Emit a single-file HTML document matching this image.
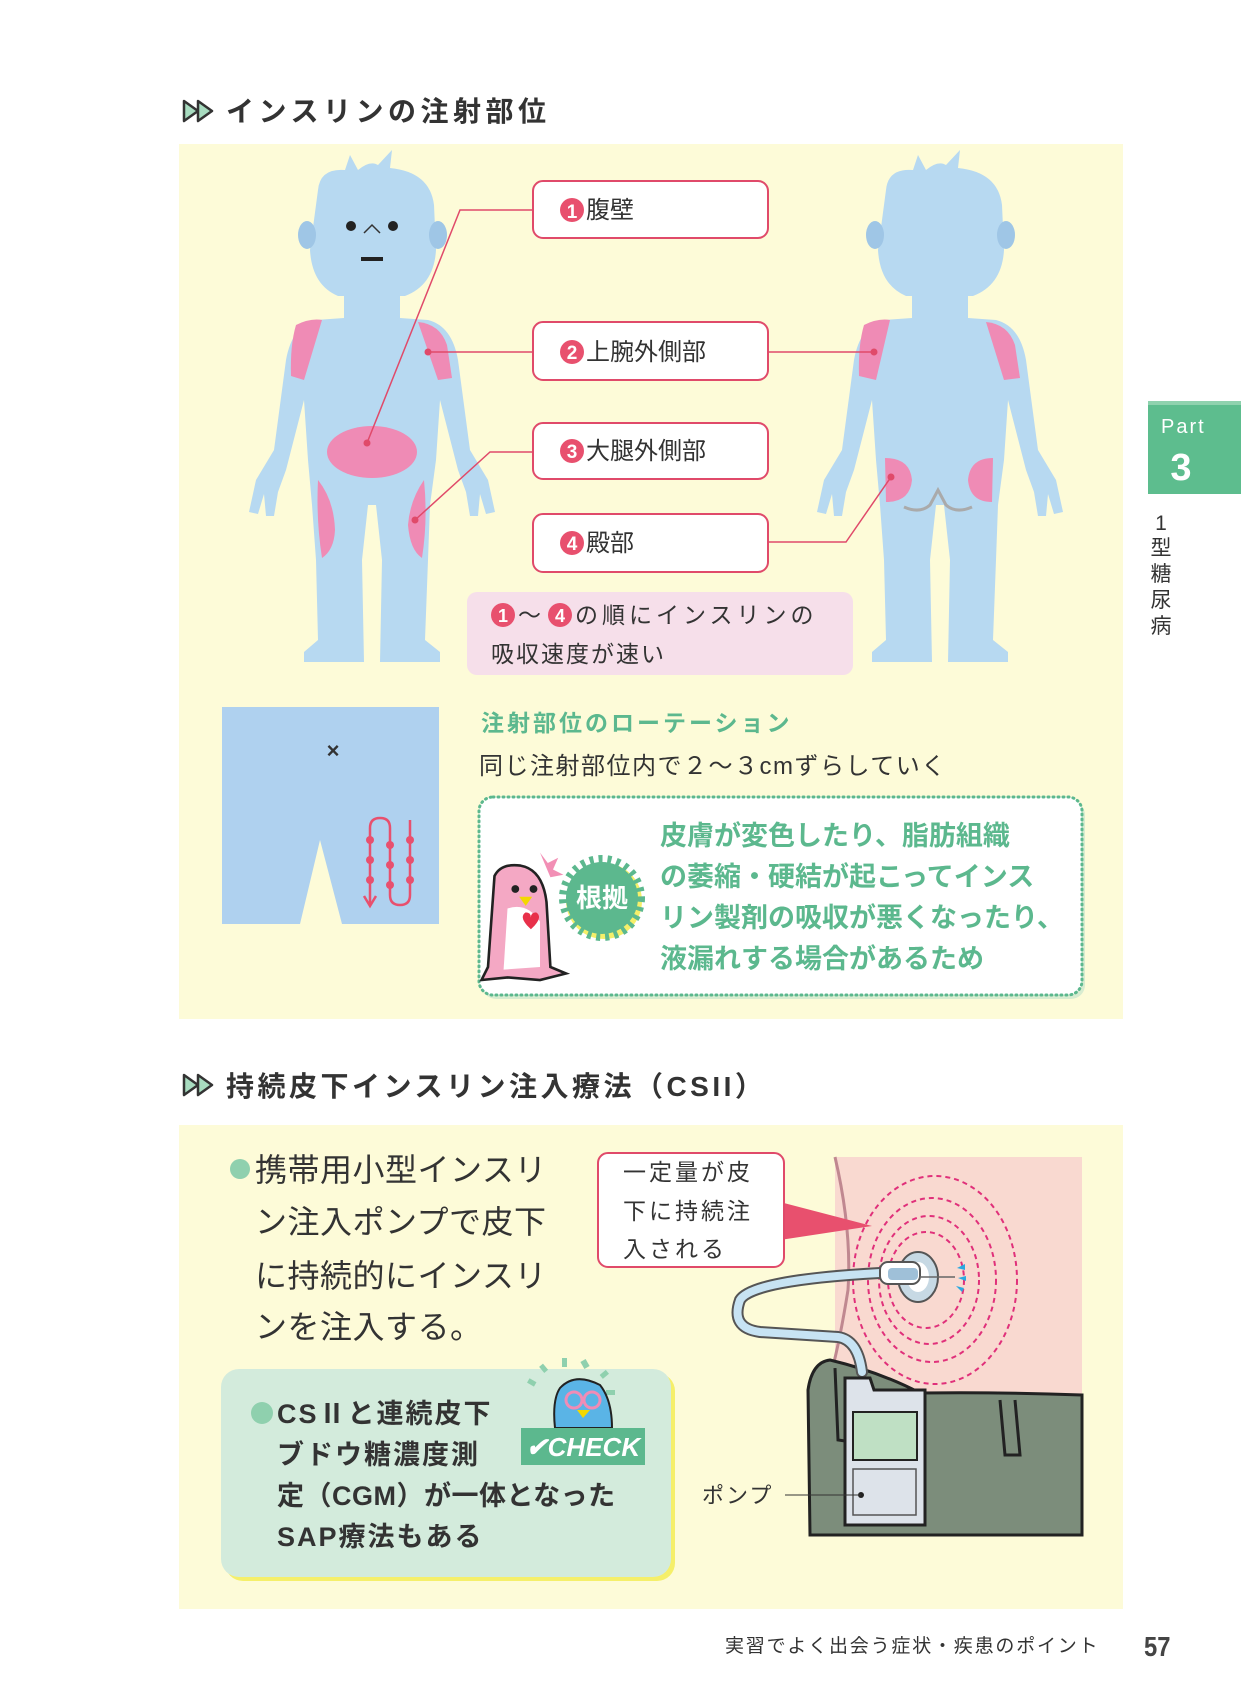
<!DOCTYPE html>
<html><head><meta charset="utf-8">
<style>
html,body{margin:0;padding:0;background:#fff;}
svg{display:block;}
text{font-family:"Liberation Sans","Noto Sans CJK JP",sans-serif;}
</style></head>
<body>
<svg width="1241" height="1701" viewBox="0 0 1241 1701" xmlns="http://www.w3.org/2000/svg">
<defs>
<g id="fig">
  <path d="M318 190 Q320 168 345 170 L350 155 L358 170 Q370 160 378 165 L392 150 L390 168 Q430 172 434 205 L436 250 Q434 285 405 296 L400 296 L400 318 L428 320 Q452 326 458 360 L470 450 L488 480 L495 512 L486 514 L480 494 L478 516 L470 516 L466 492 L458 470 L440 400 L436 460 L430 505 L428 560 L425 640 L440 652 L440 662 L380 662 L382 560 L376 505 L368 505 L362 560 L364 662 L304 662 L304 652 L318 640 L316 560 L312 505 L308 460 L304 400 L286 470 L278 492 L274 516 L266 516 L264 494 L258 514 L249 512 L256 480 L274 450 L286 360 Q292 326 316 320 L344 318 L344 296 L338 296 Q312 285 310 250 Z" fill="#b7d9f1"/>
  <ellipse cx="307" cy="235" rx="9" ry="14" fill="#9fc6e6"/>
  <ellipse cx="438" cy="235" rx="9" ry="14" fill="#9fc6e6"/>
</g>
</defs>

<rect width="1241" height="1701" fill="#fff"/>

<g transform="translate(182,99)">
  <path d="M2 2 L16 12 L2 22 Z" fill="#a8dcc0" stroke="#333" stroke-width="2.5" stroke-linejoin="round"/>
  <path d="M16 2 L30 12 L16 22 Z" fill="#a8dcc0" stroke="#333" stroke-width="2.5" stroke-linejoin="round"/>
</g>
<text x="226" y="121" font-size="28" font-weight="bold" fill="#333" letter-spacing="4.5">インスリンの注射部位</text>

<rect x="179" y="144" width="944" height="875" fill="#fdfbd8"/>

<use href="#fig"/>
<use href="#fig" transform="translate(568,0)"/>

<circle cx="351" cy="226" r="5" fill="#222"/>
<circle cx="393" cy="226" r="5" fill="#222"/>
<path d="M364 233 L372 225 L380 233" fill="none" stroke="#333" stroke-width="1.5"/>
<rect x="361" y="257" width="22" height="4" fill="#222"/>

<path d="M296 325 Q310 318 322 320 L304 380 L291 376 Q290 345 296 325Z" fill="#ef8bb5"/>
<path d="M418 322 Q440 324 447 345 L452 378 L438 380 Z" fill="#ef8bb5"/>
<ellipse cx="372" cy="452" rx="45" ry="26" fill="#ef8bb5"/>
<path d="M318 480 Q334 500 335 530 Q334 550 322 558 Q316 520 318 480Z" fill="#ef8bb5"/>
<path d="M424 480 Q410 500 408 525 Q410 550 422 558 Q428 520 424 480Z" fill="#ef8bb5"/>

<path d="M864 325 Q878 318 890 320 L876 380 L859 376 Q858 345 864 325Z" fill="#ef8bb5"/>
<path d="M986 322 Q1008 324 1015 345 L1020 378 L1004 380 Z" fill="#ef8bb5"/>
<path d="M885 458 Q910 458 912 480 Q910 502 886 502 Z" fill="#ef8bb5"/>
<path d="M993 458 Q970 458 968 480 Q970 502 992 502 Z" fill="#ef8bb5"/>
<path d="M904 507 Q920 514 930 505 L938 490 L946 505 Q956 514 972 507" fill="none" stroke="#aaa" stroke-width="3"/>

<g stroke="#e04a6a" stroke-width="1.5" fill="none">
  <path d="M533 210 L460 210 L367 443"/>
  <path d="M533 352 L428 352"/>
  <path d="M533 452 L490 452 L415 520"/>
  <path d="M768 352 L874 352"/>
  <path d="M768 542 L846 542 L891 477"/>
</g>
<g fill="#e04a6a">
  <circle cx="367" cy="443" r="3.5"/><circle cx="428" cy="352" r="3.5"/>
  <circle cx="415" cy="520" r="3.5"/><circle cx="874" cy="352" r="3.5"/>
  <circle cx="891" cy="477" r="3.5"/>
</g>

<g fill="#fff" stroke="#e04a6a" stroke-width="2">
  <rect x="533" y="181" width="235" height="57" rx="10"/>
  <rect x="533" y="322" width="235" height="58" rx="10"/>
  <rect x="533" y="423" width="235" height="56" rx="10"/>
  <rect x="533" y="514" width="235" height="58" rx="10"/>
</g>
<g font-size="24" fill="#333">
  <circle cx="572" cy="210" r="12" fill="#e8506e"/><text x="572" y="218" font-size="19" fill="#fff" text-anchor="middle" font-weight="bold">1</text>
  <text x="586" y="218">腹壁</text>
  <circle cx="572" cy="352" r="12" fill="#e8506e"/><text x="572" y="359" font-size="19" fill="#fff" text-anchor="middle" font-weight="bold">2</text>
  <text x="586" y="360">上腕外側部</text>
  <circle cx="572" cy="451" r="12" fill="#e8506e"/><text x="572" y="458" font-size="19" fill="#fff" text-anchor="middle" font-weight="bold">3</text>
  <text x="586" y="459">大腿外側部</text>
  <circle cx="572" cy="543" r="12" fill="#e8506e"/><text x="572" y="550" font-size="19" fill="#fff" text-anchor="middle" font-weight="bold">4</text>
  <text x="586" y="551">殿部</text>
</g>

<rect x="467" y="592" width="386" height="83" rx="10" fill="#f6dfea"/>
<circle cx="503" cy="615" r="12" fill="#e8506e"/><text x="503" y="622" font-size="18" fill="#fff" text-anchor="middle" font-weight="bold">1</text>
<text x="518" y="623" font-size="23" fill="#333">～</text>
<circle cx="560" cy="615" r="12" fill="#e8506e"/><text x="560" y="622" font-size="18" fill="#fff" text-anchor="middle" font-weight="bold">4</text>
<text x="575" y="623" font-size="23" fill="#333" letter-spacing="4">の順にインスリンの</text>
<text x="491" y="662" font-size="23" fill="#333" letter-spacing="2">吸収速度が速い</text>

<path d="M222 707 L439 707 L439 924 L342 924 L320 840 L300 924 L222 924 Z" fill="#afd1ef"/>
<text x="333" y="758" font-size="22" font-weight="bold" fill="#333" text-anchor="middle">×</text>
<g stroke="#e8506e" stroke-width="2.5" fill="none">
  <path d="M370 905 L370 828 Q370 818 380 818 Q390 818 390 828 L390 895 Q390 905 400 905 Q410 905 410 895 L410 820"/>
  <path d="M364 896 L370 906 L376 896"/>
</g>
<g fill="#e8506e"><circle cx="370" cy="840" r="4"/><circle cx="370" cy="860" r="4"/><circle cx="370" cy="880" r="4"/><circle cx="390" cy="845" r="4"/><circle cx="390" cy="865" r="4"/><circle cx="390" cy="885" r="4"/><circle cx="410" cy="840" r="4"/><circle cx="410" cy="860" r="4"/><circle cx="410" cy="880" r="4"/></g>

<text x="481" y="731" font-size="23" font-weight="bold" fill="#5cb88e" letter-spacing="3">注射部位のローテーション</text>
<text x="479" y="774" font-size="24" fill="#333" letter-spacing="1.5">同じ注射部位内で２～３cmずらしていく</text>

<rect x="482" y="801" width="603" height="198" rx="14" fill="#d8ecd0"/>
<rect x="479" y="797" width="603" height="198" rx="14" fill="#fff" stroke="#5cb88e" stroke-width="3" stroke-dasharray="1 4" stroke-linecap="round"/>
<g font-size="27" font-weight="bold" fill="#5cb88e">
  <text x="660" y="845">皮膚が変色したり、脂肪組織</text>
  <text x="660" y="886">の萎縮・硬結が起こってインス</text>
  <text x="660" y="927">リン製剤の吸収が悪くなったり、</text>
  <text x="660" y="968">液漏れする場合があるため</text>
</g>
<!-- penguin -->
<g transform="translate(-162,-268) scale(1.3)">
<path d="M505 880 Q510 870 525 872 Q542 875 545 900 L548 950 L560 955 L540 960 L515 958 L495 960 L500 950 Z" fill="#f4a8c4" stroke="#222" stroke-width="2"/>
<path d="M515 905 Q530 900 540 915 L540 950 L512 952 Z" fill="#fff"/>
<circle cx="521" cy="890" r="3" fill="#222"/><circle cx="535" cy="890" r="3" fill="#222"/>
<path d="M524 896 L534 896 L529 903Z" fill="#f3d800"/>
<path d="M530 918 q-6 -7 -1 -10 q4 0 4 4 q0 -4 4 -4 q5 3 -1 10 l-3 3z" fill="#e8304a"/>
<path d="M540 862 l6 8 l8 -4 l-4 9 l8 4 l-10 2 z" fill="#f28fb5"/>
</g>
<!-- starburst -->
<circle cx="602" cy="898" r="38" fill="#f5ef6a" transform="translate(2,3)"/>
<circle cx="602" cy="898" r="36" fill="#5cb88e"/>
<circle cx="602" cy="898" r="39" fill="none" stroke="#5cb88e" stroke-width="8" stroke-dasharray="4 5"/>
<text x="602" y="907" font-size="26" font-weight="bold" fill="#fff" text-anchor="middle">根拠</text>

<rect x="1148" y="404" width="93" height="90" fill="#5dbd8e"/>
<rect x="1148" y="401" width="93" height="4" fill="#8fd2ae"/>
<text x="1161" y="433" font-size="20" fill="#fff" letter-spacing="2">Part</text>
<text x="1181" y="480" font-size="38" font-weight="bold" fill="#fff" text-anchor="middle">3</text>
<g font-size="21" fill="#333" text-anchor="middle">
  <text x="1161" y="530">1</text><text x="1161" y="555">型</text><text x="1161" y="581">糖</text><text x="1161" y="607">尿</text><text x="1161" y="633">病</text>
</g>

<g transform="translate(182,1073)">
  <path d="M2 2 L16 12 L2 22 Z" fill="#a8dcc0" stroke="#333" stroke-width="2.5" stroke-linejoin="round"/>
  <path d="M16 2 L30 12 L16 22 Z" fill="#a8dcc0" stroke="#333" stroke-width="2.5" stroke-linejoin="round"/>
</g>
<text x="226" y="1096" font-size="28" font-weight="bold" fill="#333" letter-spacing="3.5">持続皮下インスリン注入療法（CSII）</text>

<rect x="179" y="1125" width="944" height="484" fill="#fdfbd8"/>
<circle cx="240" cy="1169" r="10" fill="#8fd0ae"/>
<g font-size="32" fill="#333" letter-spacing="0.5">
  <text x="255" y="1181">携帯用小型インスリ</text>
  <text x="255" y="1233">ン注入ポンプで皮下</text>
  <text x="255" y="1287">に持続的にインスリ</text>
  <text x="255" y="1338">ンを注入する。</text>
</g>

<rect x="225" y="1373" width="450" height="208" rx="18" fill="#f5ef6a"/>
<rect x="221" y="1369" width="450" height="208" rx="18" fill="#d3ebdc"/>
<circle cx="262" cy="1413" r="11" fill="#8fd0ae"/>
<g font-size="27" font-weight="bold" fill="#333" letter-spacing="2">
  <text x="277" y="1423">CSⅡと連続皮下</text>
  <text x="277" y="1464">ブドウ糖濃度測</text>
  <text x="277" y="1505" letter-spacing="0.5">定（CGM）が一体となった</text>
  <text x="277" y="1546">SAP療法もある</text>
</g>
<g fill="#8fd0ae">
  <rect x="528" y="1380" width="8" height="5" transform="rotate(30 532 1382)"/>
  <rect x="540" y="1366" width="8" height="5" transform="rotate(50 544 1368)"/>
  <rect x="562" y="1358" width="5" height="9"/>
  <rect x="582" y="1360" width="6" height="8" transform="rotate(-30 585 1364)"/>
  <rect x="600" y="1372" width="8" height="5" transform="rotate(-40 604 1374)"/>
  <rect x="606" y="1390" width="9" height="5"/>
</g>
<path d="M560 1388 Q575 1372 600 1385 Q612 1400 612 1428 L555 1428 Q552 1400 560 1388Z" fill="#5ab4e6" stroke="#222" stroke-width="2"/>
<circle cx="574" cy="1400" r="8" fill="none" stroke="#f08cb6" stroke-width="3"/>
<circle cx="592" cy="1400" r="8" fill="none" stroke="#f08cb6" stroke-width="3"/>
<path d="M577 1410 L590 1410 L583 1418Z" fill="#f3d800"/>
<rect x="521" y="1428" width="124" height="37" fill="#5cb88e"/>
<text x="583" y="1456" font-size="26" font-weight="bold" fill="#fff" text-anchor="middle" font-style="italic">✔CHECK</text>

<rect x="835" y="1157" width="247" height="378" fill="#f9d9d0"/>
<path d="M835 1157 Q852 1230 848 1290 Q840 1340 832 1370" fill="none" stroke="#c08890" stroke-width="3"/>
<g fill="none" stroke="#e0307a" stroke-width="2" stroke-dasharray="5 4">
  <ellipse cx="935" cy="1280" rx="82" ry="104"/>
  <ellipse cx="932" cy="1280" rx="64" ry="82"/>
  <ellipse cx="929" cy="1280" rx="50" ry="64"/>
  <ellipse cx="926" cy="1280" rx="38" ry="48"/>
</g>
<path d="M810 1535 L808 1390 Q812 1362 830 1360 Q880 1372 920 1393 Q1000 1392 1082 1395 L1082 1535 Z" fill="#7c8d7b" stroke="#222" stroke-width="3"/>
<path d="M835 1368 L838 1440 L852 1442" fill="none" stroke="#222" stroke-width="3"/>
<path d="M1000 1400 L1005 1455 L1020 1455 L1015 1400" fill="none" stroke="#222" stroke-width="3"/>
<path d="M862 1372 Q858 1340 838 1337 L760 1332 Q730 1328 740 1300 Q752 1280 880 1273" fill="none" stroke="#555" stroke-width="12" stroke-linecap="round"/>
<path d="M862 1372 Q858 1340 838 1337 L760 1332 Q730 1328 740 1300 Q752 1280 880 1273" fill="none" stroke="#c7e3f3" stroke-width="8" stroke-linecap="round"/>
<ellipse cx="918" cy="1277" rx="20" ry="25" fill="#c7d9e4" stroke="#555" stroke-width="2"/>
<ellipse cx="918" cy="1277" rx="11" ry="15" fill="#fff"/>
<rect x="880" y="1262" width="40" height="22" rx="8" fill="#fff" stroke="#555" stroke-width="2"/>
<rect x="888" y="1268" width="30" height="12" rx="4" fill="#9fc0d8"/>
<line x1="920" y1="1277" x2="955" y2="1277" stroke="#666" stroke-width="1.5"/>
<g fill="#2aa8e0"><path d="M965 1264 l-8 4 l8 2z"/><path d="M966 1276 l-8 2 l8 3z"/><path d="M964 1288 l-8 -2 l6 6z"/></g>
<path d="M845 1378 L870 1378 L874 1390 L925 1390 L925 1525 L845 1525 Z" fill="#dde3ea" stroke="#222" stroke-width="3"/>
<rect x="853" y="1412" width="64" height="48" fill="#bfe0c4" stroke="#222" stroke-width="2"/>
<rect x="853" y="1469" width="63" height="46" fill="none" stroke="#555" stroke-width="1.5"/>
<circle cx="861" cy="1495" r="3" fill="#222"/>
<line x1="785" y1="1495" x2="861" y2="1495" stroke="#333" stroke-width="1"/>
<text x="702" y="1503" font-size="22" fill="#333" letter-spacing="2">ポンプ</text>

<path d="M780 1202 L872 1226 L780 1240 Z" fill="#e8506e"/>
<rect x="598" y="1153" width="186" height="114" rx="10" fill="#fff" stroke="#e04a6a" stroke-width="2"/>
<g font-size="23" fill="#333" letter-spacing="3">
  <text x="623" y="1180">一定量が皮</text>
  <text x="623" y="1219">下に持続注</text>
  <text x="623" y="1257">入される</text>
</g>

<text x="725" y="1652" font-size="19" fill="#333" letter-spacing="1.8">実習でよく出会う症状・疾患のポイント</text>
<text x="1144" y="1656" font-size="28" fill="#444" font-weight="bold" transform="translate(1144 0) scale(0.85 1) translate(-1144 0)">57</text>
</svg>
</body></html>
